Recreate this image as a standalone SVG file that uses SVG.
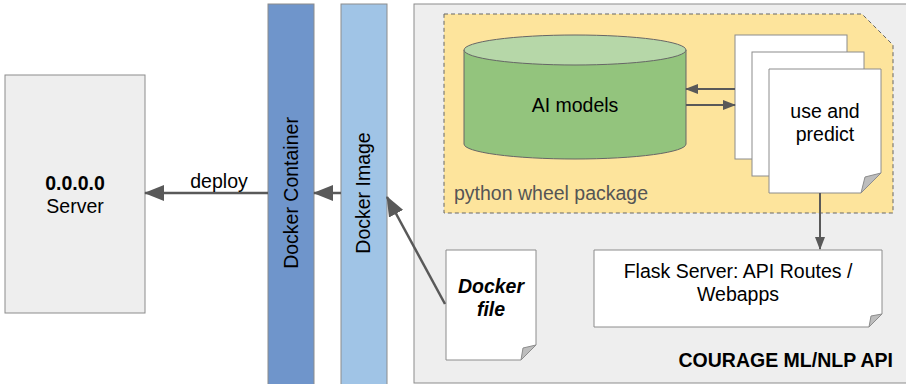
<svg xmlns="http://www.w3.org/2000/svg" width="906" height="384" viewBox="0 0 906 384">
<style>
text{font-family:"Liberation Sans",Arial,sans-serif;fill:#000}
.t{font-size:19.5px}
.st{stroke:#8c8c8c;stroke-width:1}
.page{fill:#fff;stroke:#8c8c8c;stroke-width:1}
.fold{fill:#bdbdbd;stroke:#8c8c8c;stroke-width:1}
.c{stroke:#595959;fill:none}
</style>
<defs>
<marker id="ah" viewBox="0 0 20 16" refX="19" refY="8" markerWidth="20" markerHeight="16" markerUnits="userSpaceOnUse" orient="auto">
<path d="M0,0 L20,8 L0,16 Z" fill="#595959"/>
</marker>
<marker id="ahs" viewBox="0 0 13 10" refX="12" refY="5" markerWidth="13" markerHeight="10" markerUnits="userSpaceOnUse" orient="auto">
<path d="M0,0 L13,5 L0,10 Z" fill="#595959"/>
</marker>
</defs>

<g id="api">
<rect x="414" y="4" width="500" height="379" fill="#eeeeee" stroke="#8c8c8c"/>
<text x="893" y="367" text-anchor="end" font-size="19.5" font-weight="bold">COURAGE ML/NLP API</text>
</g>

<g id="package">
<path d="M444,14 H862 L893,45 V213 H444 Z" fill="#fde49c" stroke="#666" stroke-dasharray="4,3"/>
<text x="454" y="200" font-size="19.5" style="fill:#555">python wheel package</text>
</g>

<g id="server">
<rect x="5" y="75" width="140" height="238" fill="#eeeeee" class="st"/>
<text x="75" y="190" class="t" text-anchor="middle" font-weight="bold">0.0.0.0</text>
<text x="75" y="213" class="t" text-anchor="middle">Server</text>
</g>

<g id="container">
<rect x="268" y="4" width="46" height="382" fill="#6f95cb" class="st"/>
<text transform="translate(298,193) rotate(-90)" class="t" text-anchor="middle">Docker Container</text>
</g>

<g id="image">
<rect x="341" y="4" width="46" height="382" fill="#a0c4e6" class="st"/>
<text transform="translate(370,193) rotate(-90)" class="t" text-anchor="middle">Docker Image</text>
</g>

<g id="models">
<path d="M464,50 V144 A111,15 0 0 0 686,144 V50" fill="#93c47d" stroke="#666"/>
<ellipse cx="575" cy="50" rx="111" ry="15" fill="#b6d7a8" stroke="#666"/>
<text x="575" y="112" class="t" text-anchor="middle">AI models</text>
</g>

<g id="predict">
<rect x="735" y="35" width="112" height="124" class="page"/>
<rect x="752" y="52" width="112" height="124" class="page"/>
<path d="M769,69 H881 V173 L861,193 H769 Z" class="page"/>
<path d="M881,173 L861,193 L865,177 Z" class="fold"/>
<text x="825" y="118" class="t" text-anchor="middle">use and</text>
<text x="825" y="141" class="t" text-anchor="middle">predict</text>
</g>

<g id="flask">
<path d="M594,250 H882 V314 L869,327 H594 Z" class="page"/>
<path d="M882,314 L869,327 L871,316 Z" class="fold"/>
<text x="738" y="278" class="t" text-anchor="middle">Flask Server: API Routes /</text>
<text x="738" y="301" class="t" text-anchor="middle">Webapps</text>
</g>

<g id="dockerfile">
<path d="M446,250 H536 V345 L521,360 H446 Z" class="page"/>
<path d="M536,345 L521,360 L523,348 Z" class="fold"/>
<text x="491" y="293" class="t" text-anchor="middle" font-weight="bold" font-style="italic">Docker</text>
<text x="491" y="316" class="t" text-anchor="middle" font-weight="bold" font-style="italic">file</text>
</g>

<g id="connectors">
<line x1="268" y1="193" x2="145" y2="193" class="c" stroke-width="2.5" marker-end="url(#ah)"/>
<text x="219" y="188" class="t" text-anchor="middle">deploy</text>
<line x1="341" y1="193" x2="314" y2="193" class="c" stroke-width="2.5" marker-end="url(#ah)"/>
<line x1="445" y1="304" x2="387" y2="197" class="c" stroke-width="2.5" marker-end="url(#ah)"/>
<line x1="735" y1="89" x2="686" y2="89" class="c" stroke-width="2" marker-end="url(#ahs)"/>
<line x1="686" y1="105" x2="735" y2="105" class="c" stroke-width="2" marker-end="url(#ahs)"/>
<line x1="820" y1="193" x2="820" y2="249" class="c" stroke-width="2" marker-end="url(#ahs)"/>
</g>
</svg>
